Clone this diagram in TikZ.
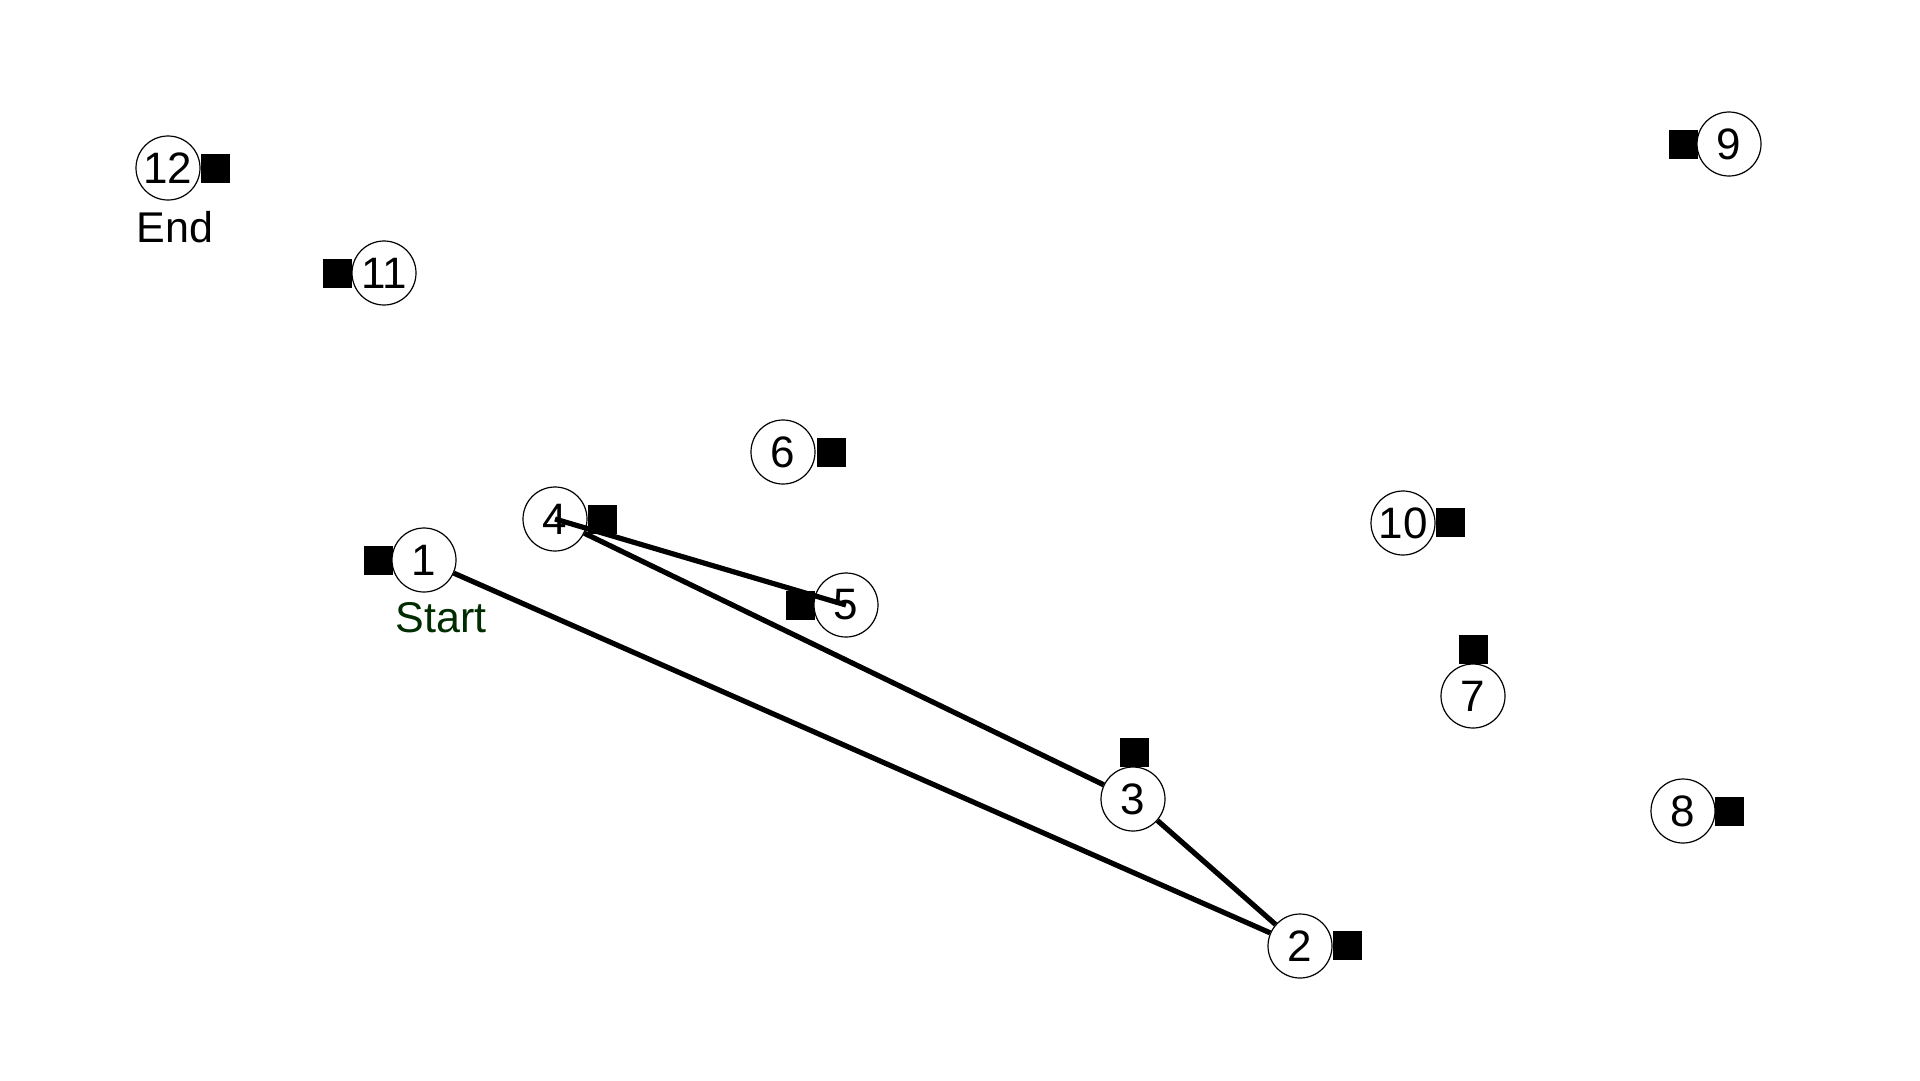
\documentclass[tikz,border=0pt]{standalone}
\usepackage{fontspec}
\setmainfont{Liberation Sans}
\definecolor{startgreen}{RGB}{0,45,0}
\begin{document}
\begin{tikzpicture}[x=1pt,y=-1pt,
  stop/.style={circle,draw=black,line width=1.2pt,fill=white,minimum size=64pt,inner sep=0pt,font=\fontsize{44}{44}\selectfont},
  mk/.style={rectangle,fill=black,minimum size=29pt,inner sep=0pt},
  route/.style={line width=5.2pt,black},
  lbl/.style={inner sep=0pt,anchor=base,font=\fontsize{43}{43}\selectfont}]
\useasboundingbox (0,0) rectangle (1920,1080);
\fill[white] (0,0) rectangle (1920,1080);
% markers
\node[mk] (s1) at (378,560) {};
\node[mk] (s2) at (1347,945) {};
\node[mk] (s3) at (1134,752) {};
\node[mk] (s4) at (602,519) {};
\node[mk] (s5) at (800,605) {};
\node[mk] (s6) at (831,452) {};
\node[mk] (s7) at (1473,649) {};
\node[mk] (s8) at (1729,811) {};
\node[mk] (s9) at (1683,144) {};
\node[mk] (s10) at (1450,522) {};
\node[mk] (s11) at (337,273) {};
\node[mk] (s12) at (215,168) {};
% stops
\node[stop] (n1) at (424,560) {1};
\node[stop] (n2) at (1300,946) {2};
\node[stop] (n3) at (1133,799) {3};
\node[stop] (n4) at (555,519) {4};
\node[stop] (n5) at (846,605) {5};
\node[stop] (n6) at (783,452) {6};
\node[stop] (n7) at (1473,696) {7};
\node[stop] (n8) at (1683,811) {8};
\node[stop] (n9) at (1729,144) {9};
\node[stop] (n10) at (1403,523) {10};
\node[stop] (n11) at (384,273) {11};
\node[stop] (n12) at (168,168) {12};
% labels
\node[lbl] (endl) at (175,242) {End};
\node[lbl,text=startgreen] (startl) at (441,632) {Start};
% route
\draw[route] (n1) -- (n2);
\draw[route] (n2) -- (n3);
\draw[route] (n3) -- (n4);
\draw[route] (n4.center) -- (n5.center);
\end{tikzpicture}
\end{document}
